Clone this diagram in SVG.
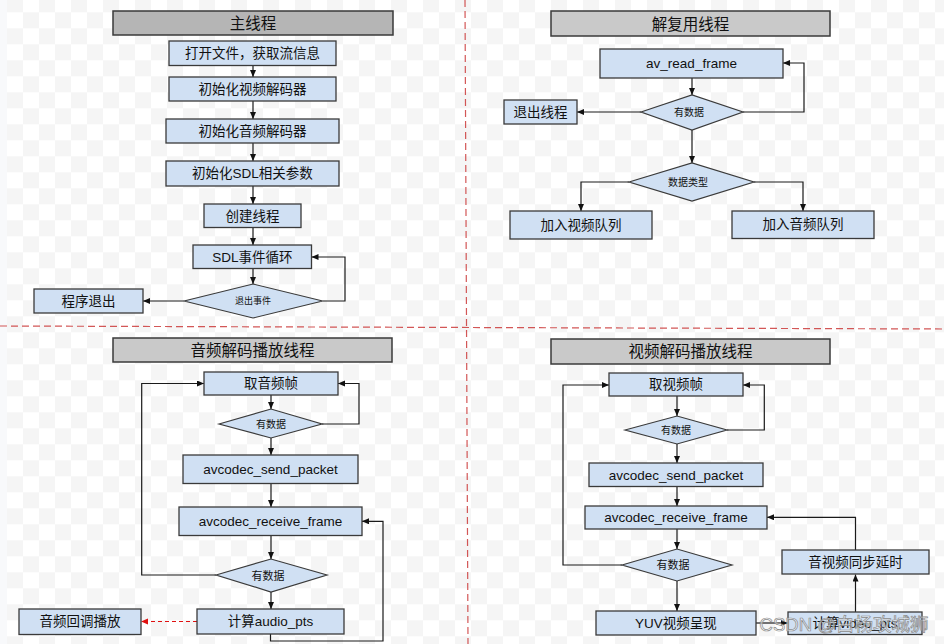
<svg xmlns="http://www.w3.org/2000/svg" width="944" height="644" viewBox="0 0 944 644">
<defs>
<pattern id="chk" x="7" y="-3.7" width="32" height="32" patternUnits="userSpaceOnUse">
<rect width="32" height="32" fill="#ffffff"/>
<rect width="16" height="16" fill="#f5f5f5"/>
<rect x="16" y="16" width="16" height="16" fill="#f5f5f5"/>
</pattern>
<marker id="ah" markerUnits="userSpaceOnUse" markerWidth="8" markerHeight="7" refX="7" refY="3" orient="auto">
<path d="M0,0 L7,3 L0,6 z" fill="#111"/>
</marker>
<marker id="ahr" markerUnits="userSpaceOnUse" markerWidth="8" markerHeight="7" refX="7" refY="3" orient="auto">
<path d="M0,0 L7,3 L0,6 z" fill="#e01010"/>
</marker>
</defs>
<style>
.box{fill:#d0e0f3;stroke:#3a3a3a;stroke-width:1.3}
.ttl{fill:#c9c9c9;stroke:#3a3a3a;stroke-width:1.5}
.ttl.main{fill:#b5b5b5}
.dia{fill:#d0e0f3;stroke:#3a3a3a;stroke-width:1.2}
text{font-family:"Liberation Sans","Noto Sans CJK SC",sans-serif;fill:#111;text-anchor:middle;dominant-baseline:central}
.t{font-size:13.5px}
.h{font-size:15.5px}
.d{font-size:10px}
.d2{font-size:11px}
.d9{font-size:9px}
.ln{fill:none;stroke:#1a1a1a;stroke-width:1.2;marker-end:url(#ah)}
.red{fill:none;stroke:#e01010;stroke-width:1.2;stroke-dasharray:4 3;marker-end:url(#ahr)}
.div{stroke:#cc3a3a;stroke-width:1.2;stroke-dasharray:7 4;opacity:0.85}
</style>
<rect x="0" y="0" width="944" height="644" fill="#f8f9fb"/>
<rect x="7" y="0" width="937" height="644" fill="url(#chk)"/>
<g id="dividers">
<line class="div" x1="465" y1="0" x2="468" y2="644"/>
<line class="div" x1="0" y1="326" x2="944" y2="329"/>
</g>
<g id="connectors">
<!-- main thread -->
<line class="ln" x1="253" y1="65.5" x2="253" y2="77"/>
<line class="ln" x1="253" y1="101" x2="253" y2="119"/>
<line class="ln" x1="253" y1="143" x2="253" y2="161"/>
<line class="ln" x1="253" y1="186" x2="253" y2="204"/>
<line class="ln" x1="253" y1="227.5" x2="253" y2="245"/>
<line class="ln" x1="253" y1="268.5" x2="253" y2="284"/>
<line class="ln" x1="184" y1="301" x2="143" y2="301"/>
<polyline class="ln" points="322.7,301 345,301 345,257 311.5,257"/>
<!-- demux thread -->
<line class="ln" x1="692" y1="78" x2="692" y2="95"/>
<line class="ln" x1="692" y1="130" x2="692" y2="163"/>
<line class="ln" x1="641" y1="112" x2="577" y2="112"/>
<polyline class="ln" points="743,112 804,112 804,63 783,63"/>
<polyline class="ln" points="629,182 581,182 581,211"/>
<polyline class="ln" points="754,182 803,182 803,211"/>
<!-- audio thread -->
<line class="ln" x1="271" y1="395" x2="271" y2="409"/>
<line class="ln" x1="271" y1="438" x2="271" y2="455"/>
<line class="ln" x1="271" y1="483.5" x2="271" y2="507"/>
<line class="ln" x1="271" y1="535.5" x2="271" y2="559"/>
<line class="ln" x1="271" y1="592" x2="271" y2="609"/>
<polyline class="ln" points="322,424 359,424 359,383.5 338,383.5"/>
<polyline class="ln" points="216,575 141.7,575 141.7,383.5 204,383.5"/>
<polyline class="ln" points="270.5,634 270.5,641 383,641 383,521.3 362,521.3"/>
<line class="red" x1="197" y1="621.5" x2="141" y2="621.5"/>
<!-- video thread -->
<line class="ln" x1="677" y1="396" x2="677" y2="416"/>
<line class="ln" x1="677" y1="444" x2="677" y2="463"/>
<line class="ln" x1="677" y1="486.5" x2="677" y2="506"/>
<line class="ln" x1="677" y1="529" x2="677" y2="549"/>
<line class="ln" x1="677" y1="581" x2="677" y2="611"/>
<polyline class="ln" points="727,430 764.3,430 764.3,385 743,385"/>
<polyline class="ln" points="622,565 563,565 563,385 609,385"/>
<line class="ln" x1="756" y1="623" x2="788" y2="623"/>
<line class="ln" x1="855.5" y1="612" x2="855.5" y2="574.5"/>
<polyline class="ln" points="855.5,550 855.5,517.3 767,517.3"/>
</g>
<!-- main thread nodes -->
<g id="title-main"><rect class="ttl main" x="113" y="11" width="280" height="24"/><text class="h" x="253" y="23.5">主线程</text></g>
<g id="open-file"><rect class="box" x="169" y="41" width="167" height="24.5"/><text class="t" x="252.5" y="53.5">打开文件，获取流信息</text></g>
<g id="init-video"><rect class="box" x="169" y="77" width="167" height="24"/><text class="t" x="252.5" y="89">初始化视频解码器</text></g>
<g id="init-audio"><rect class="box" x="166" y="119" width="173" height="24"/><text class="t" x="252.5" y="131">初始化音频解码器</text></g>
<g id="init-sdl"><rect class="box" x="166" y="161" width="173" height="25"/><text class="t" x="252.5" y="173.5">初始化SDL相关参数</text></g>
<g id="create-thread"><rect class="box" x="204" y="204" width="97" height="23.5"/><text class="t" x="252.5" y="216">创建线程</text></g>
<g id="sdl-loop"><rect class="box" x="193" y="245" width="118.5" height="23.5"/><text class="t" x="252.5" y="257">SDL事件循环</text></g>
<g id="exit-event"><polygon class="dia" points="184,301 253,284 322.7,301 253,318"/><text class="d9" x="253" y="301">退出事件</text></g>
<g id="prog-exit"><rect class="box" x="34" y="289" width="109" height="24"/><text class="t" x="88.5" y="301">程序退出</text></g>
<!-- demux thread nodes -->
<g id="title-demux"><rect class="ttl" x="551" y="11" width="279" height="25"/><text class="h" x="690.5" y="24">解复用线程</text></g>
<g id="av-read-frame"><rect class="box" x="600" y="49" width="183" height="29"/><text class="t" x="691.5" y="63.5">av_read_frame</text></g>
<g id="demux-has-data"><polygon class="dia" points="641,112 692,95 743,112 692,130"/><text class="d" x="689" y="112.5">有数据</text></g>
<g id="exit-thread"><rect class="box" x="504" y="100" width="73" height="24"/><text class="t" x="540.5" y="112">退出线程</text></g>
<g id="data-type"><polygon class="dia" points="629,182 692,163 754,182 692,201"/><text class="d" x="688" y="182.5">数据类型</text></g>
<g id="enqueue-video"><rect class="box" x="510" y="211" width="142" height="28"/><text class="t" x="581" y="225">加入视频队列</text></g>
<g id="enqueue-audio"><rect class="box" x="732" y="211" width="142" height="27.5"/><text class="t" x="803" y="224.5">加入音频队列</text></g>
<!-- audio thread nodes -->
<g id="title-audio"><rect class="ttl" x="113" y="338" width="279" height="24"/><text class="h" x="252.5" y="350.5">音频解码播放线程</text></g>
<g id="get-audio-frame"><rect class="box" x="204" y="372" width="134" height="23"/><text class="t" x="271" y="383.5">取音频帧</text></g>
<g id="audio-has-data1"><polygon class="dia" points="219,424 271,409 322,424 271,438"/><text class="d" x="271" y="424">有数据</text></g>
<g id="audio-send-packet"><rect class="box" x="183" y="455" width="175" height="28.5"/><text class="t" x="270.5" y="469">avcodec_send_packet</text></g>
<g id="audio-receive-frame"><rect class="box" x="179" y="507" width="183" height="28.5"/><text class="t" x="270.5" y="521">avcodec_receive_frame</text></g>
<g id="audio-has-data2"><polygon class="dia" points="216,575 271,559 327,575 271,592"/><text class="d2" x="268" y="575.5">有数据</text></g>
<g id="calc-audio-pts"><rect class="box" x="197" y="609" width="147" height="25"/><text class="t" x="270.5" y="621.5">计算audio_pts</text></g>
<g id="audio-callback"><rect class="box" x="19" y="609" width="122" height="25.5"/><text class="t" x="80" y="621.5">音频回调播放</text></g>
<!-- video thread nodes -->
<g id="title-video"><rect class="ttl" x="551" y="339" width="279" height="25"/><text class="h" x="690.5" y="351.5">视频解码播放线程</text></g>
<g id="get-video-frame"><rect class="box" x="609" y="373" width="134" height="23"/><text class="t" x="676" y="384.5">取视频帧</text></g>
<g id="video-has-data1"><polygon class="dia" points="625,430 677,416 727,430 677,444"/><text class="d" x="676" y="430.5">有数据</text></g>
<g id="video-send-packet"><rect class="box" x="589" y="463" width="174" height="23.5"/><text class="t" x="676" y="475">avcodec_send_packet</text></g>
<g id="video-receive-frame"><rect class="box" x="585" y="506" width="182" height="23"/><text class="t" x="676" y="517.5">avcodec_receive_frame</text></g>
<g id="video-has-data2"><polygon class="dia" points="622,565 677,549 732,565 677,581"/><text class="d2" x="673" y="565">有数据</text></g>
<g id="yuv-render"><rect class="box" x="596" y="611" width="160" height="24"/><text class="t" x="676" y="623">YUV视频呈现</text></g>
<g id="av-sync"><rect class="box" x="782" y="550" width="147" height="24"/><text class="t" x="855.5" y="562">音视频同步延时</text></g>
<g id="calc-video-pts"><rect class="box" x="788" y="612" width="134" height="22.5"/><text class="t" x="855" y="623">计算video_pts</text></g>
<g id="watermark"><text x="844" y="624" style="font-size:18.5px;fill:#ffffff;fill-opacity:0.55;stroke:#8a8a8a;stroke-width:0.7">CSDN @白杨攻城狮</text></g>
</svg>
